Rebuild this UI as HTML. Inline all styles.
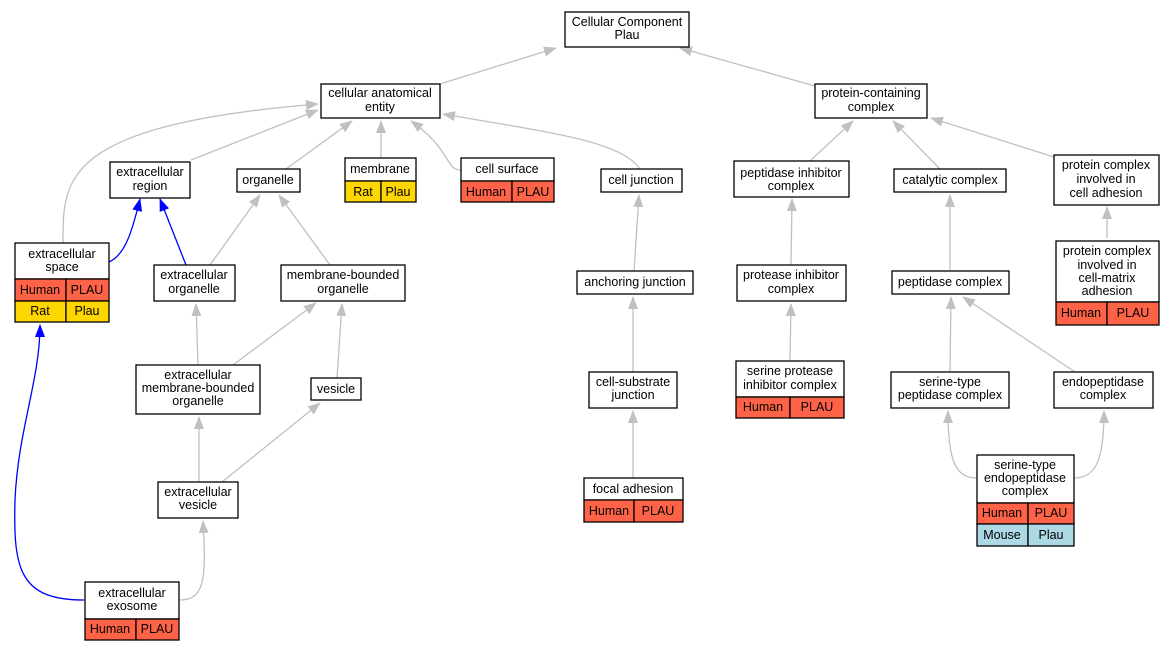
<!DOCTYPE html>
<html><head><meta charset="utf-8"><style>
html,body{margin:0;padding:0;background:#fff;width:1173px;height:651px;overflow:hidden}
svg text{font-family:"Liberation Sans",Arial,sans-serif;font-size:12.5px;fill:#000;text-anchor:middle}
.b{fill:#fff;stroke:#000;stroke-width:1.3}
.h{fill:#ff6347;stroke:#000;stroke-width:1.3}
.y{fill:#ffd700;stroke:#000;stroke-width:1.3}
.m{fill:#add8e6;stroke:#000;stroke-width:1.3}
.g{fill:none;stroke:#c0c0c0;stroke-width:1.3}
.u{fill:none;stroke:#0000ff;stroke-width:1.3}
</style></head><body>
<svg width="1173" height="651" viewBox="0 0 1173 651" xmlns="http://www.w3.org/2000/svg">
<defs>
<marker id="ag" markerWidth="14" markerHeight="12" refX="12" refY="5" orient="auto" markerUnits="userSpaceOnUse"><path d="M0,0 L13,5 L0,10 Z" fill="#c0c0c0"/></marker>
<marker id="ab" markerWidth="14" markerHeight="12" refX="12" refY="5" orient="auto" markerUnits="userSpaceOnUse"><path d="M0,0 L13,5 L0,10 Z" fill="#0000ff"/></marker>
</defs>
<g class="g" marker-end="url(#ag)">
<path class="g" d="M440,84 L556,48"/>
<path class="g" d="M815,86 L680,48"/>
<path class="g" d="M191,160 L318,110"/>
<path class="g" d="M63,243 C63,180 60,125 318,104"/>
<path class="g" d="M286,169 L352,121"/>
<path class="g" d="M381,158 L381,121"/>
<path class="g" d="M461,170 C445,170 452,150 411,121"/>
<path class="g" d="M640,169 C620,140 545,132 443,114"/>
<path class="g" d="M810,161 L853,121"/>
<path class="g" d="M940,169 L893,121"/>
<path class="g" d="M1054,157 L931,118"/>
<path class="g" d="M210,265 L260,195"/>
<path class="g" d="M330,265 L279,195"/>
<path class="g" d="M634,271 L639,195"/>
<path class="g" d="M791,265 L792,199"/>
<path class="g" d="M950,271 L950,195"/>
<path class="g" d="M1107,238 L1107,207"/>
<path class="g" d="M198,365 L196,304"/>
<path class="g" d="M233,365 L316,303"/>
<path class="g" d="M337,378 L342,304"/>
<path class="g" d="M633,372 L633,297"/>
<path class="g" d="M790,360 L791,304"/>
<path class="g" d="M950,372 L951,297"/>
<path class="g" d="M1075,372 L963,297"/>
<path class="g" d="M199,482 L199,417"/>
<path class="g" d="M222,482 L320,403"/>
<path class="g" d="M633,478 L633,411"/>
<path class="g" d="M977,478 C955,478 948,460 948,411"/>
<path class="g" d="M1074,478 C1096,478 1104,460 1104,411"/>
<path class="g" d="M180,600 C206,600 206,575 203,521"/>
</g>
<path class="u" marker-end="url(#ab)" d="M109,262 C125,255 132,232 140,199"/>
<path class="u" marker-end="url(#ab)" d="M186,265 L160,199"/>
<path class="u" marker-end="url(#ab)" d="M84,600 C20,600 13,570 15,500 C18,430 40,380 40,325"/>

<rect class="b" x="565" y="12" width="124" height="35"/><text x="627" y="26">Cellular Component</text><text x="627" y="39">Plau</text>
<rect class="b" x="321" y="84" width="119" height="34"/><text x="380" y="97">cellular anatomical</text><text x="380" y="111">entity</text>
<rect class="b" x="815" y="84" width="112" height="34"/><text x="871" y="97">protein-containing</text><text x="871" y="111">complex</text>

<rect class="b" x="110" y="162" width="80" height="36"/><text x="150" y="176">extracellular</text><text x="150" y="190">region</text>
<rect class="b" x="237" y="169" width="63" height="23"/><text x="268" y="184">organelle</text>
<rect class="b" x="345" y="158" width="71" height="23"/><text x="380" y="173">membrane</text>
<rect class="y" x="345" y="181" width="36" height="21"/><rect class="y" x="381" y="181" width="35" height="21"/><text x="363" y="196">Rat</text><text x="398" y="196">Plau</text>
<rect class="b" x="461" y="158" width="93" height="23"/><text x="507" y="173">cell surface</text>
<rect class="h" x="461" y="181" width="51" height="21"/><rect class="h" x="512" y="181" width="42" height="21"/><text x="486" y="196">Human</text><text x="533" y="196">PLAU</text>
<rect class="b" x="601" y="169" width="81" height="23"/><text x="641" y="184">cell junction</text>
<rect class="b" x="734" y="161" width="115" height="36"/><text x="791" y="177">peptidase inhibitor</text><text x="791" y="190">complex</text>
<rect class="b" x="894" y="169" width="112" height="23"/><text x="950" y="184">catalytic complex</text>
<rect class="b" x="1054" y="155" width="105" height="50"/><text x="1106" y="169">protein complex</text><text x="1106" y="183">involved in</text><text x="1106" y="197">cell adhesion</text>

<rect class="b" x="15" y="243" width="94" height="36"/><text x="62" y="258">extracellular</text><text x="62" y="271">space</text>
<rect class="h" x="15" y="279" width="51" height="22"/><rect class="h" x="66" y="279" width="43" height="22"/><text x="40" y="294">Human</text><text x="87" y="294">PLAU</text>
<rect class="y" x="15" y="301" width="51" height="21"/><rect class="y" x="66" y="301" width="43" height="21"/><text x="40" y="315">Rat</text><text x="87" y="315">Plau</text>
<rect class="b" x="154" y="265" width="81" height="36"/><text x="194" y="279">extracellular</text><text x="194" y="293">organelle</text>
<rect class="b" x="281" y="265" width="124" height="36"/><text x="343" y="279">membrane-bounded</text><text x="343" y="293">organelle</text>
<rect class="b" x="577" y="271" width="116" height="23"/><text x="635" y="286">anchoring junction</text>
<rect class="b" x="737" y="265" width="109" height="36"/><text x="791" y="279">protease inhibitor</text><text x="791" y="293">complex</text>
<rect class="b" x="892" y="271" width="117" height="23"/><text x="950" y="286">peptidase complex</text>
<rect class="b" x="1056" y="241" width="103" height="61"/><text x="1107" y="255">protein complex</text><text x="1107" y="269">involved in</text><text x="1107" y="282">cell-matrix</text><text x="1107" y="295">adhesion</text>
<rect class="h" x="1056" y="302" width="51" height="23"/><rect class="h" x="1107" y="302" width="52" height="23"/><text x="1081" y="317">Human</text><text x="1133" y="317">PLAU</text>

<rect class="b" x="136" y="365" width="124" height="49"/><text x="198" y="379">extracellular</text><text x="198" y="392">membrane-bounded</text><text x="198" y="405">organelle</text>
<rect class="b" x="311" y="378" width="50" height="22"/><text x="336" y="393">vesicle</text>
<rect class="b" x="589" y="372" width="88" height="36"/><text x="633" y="386">cell-substrate</text><text x="633" y="399">junction</text>
<rect class="b" x="736" y="361" width="108" height="36"/><text x="790" y="375">serine protease</text><text x="790" y="389">inhibitor complex</text>
<rect class="h" x="736" y="397" width="54" height="21"/><rect class="h" x="790" y="397" width="54" height="21"/><text x="763" y="411">Human</text><text x="817" y="411">PLAU</text>
<rect class="b" x="891" y="372" width="118" height="36"/><text x="950" y="386">serine-type</text><text x="950" y="399">peptidase complex</text>
<rect class="b" x="1054" y="372" width="99" height="36"/><text x="1103" y="386">endopeptidase</text><text x="1103" y="399">complex</text>

<rect class="b" x="158" y="482" width="80" height="36"/><text x="198" y="496">extracellular</text><text x="198" y="509">vesicle</text>
<rect class="b" x="584" y="478" width="99" height="22"/><text x="633" y="493">focal adhesion</text>
<rect class="h" x="584" y="500" width="50" height="22"/><rect class="h" x="634" y="500" width="49" height="22"/><text x="609" y="515">Human</text><text x="658" y="515">PLAU</text>
<rect class="b" x="977" y="455" width="97" height="48"/><text x="1025" y="469">serine-type</text><text x="1025" y="482">endopeptidase</text><text x="1025" y="495">complex</text>
<rect class="h" x="977" y="503" width="51" height="21"/><rect class="h" x="1028" y="503" width="46" height="21"/><text x="1002" y="517">Human</text><text x="1051" y="517">PLAU</text>
<rect class="m" x="977" y="524" width="51" height="22"/><rect class="m" x="1028" y="524" width="46" height="22"/><text x="1002" y="539">Mouse</text><text x="1051" y="539">Plau</text>

<rect class="b" x="85" y="582" width="94" height="37"/><text x="132" y="597">extracellular</text><text x="132" y="610">exosome</text>
<rect class="h" x="85" y="619" width="51" height="21"/><rect class="h" x="136" y="619" width="43" height="21"/><text x="110" y="633">Human</text><text x="157" y="633">PLAU</text>
</svg>
</body></html>
